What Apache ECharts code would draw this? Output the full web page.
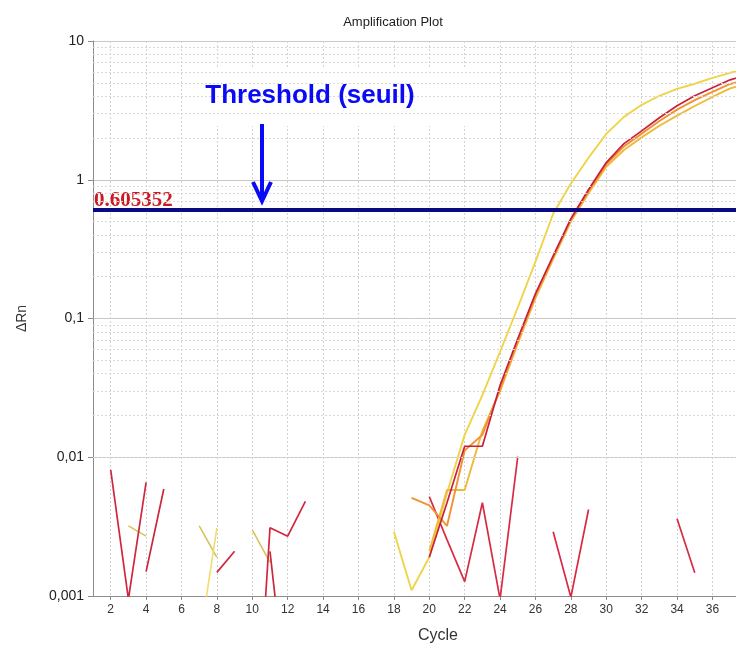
<!DOCTYPE html>
<html><head><meta charset="utf-8">
<script src="https://cdn.jsdelivr.net/npm/echarts@6/dist/echarts.min.js"></script>
<style>html,body{margin:0;padding:0;background:#fff}#c{width:736px;height:645px}</style>
</head><body><div id="c"></div>
<script>
// ---- data (cycle, ΔRn) ----
const xTickValues = [2,4,6,8,10,12,14,16,18,20,22,24,26,28,30,32,34,36];
const yTickLabels = ['0,001','0,01','0,1','1','10'];
const threshold = 0.605352;

const ampYellow = [[18,0.0029],[19,0.0011],[20,0.0019],[21,0.0055],[22,0.0145],[23,0.028],[24,0.0576],[25,0.12],[26,0.257],[27,0.569],[28,0.94],[29,1.44],[30,2.14],[31,2.84],[32,3.47],[33,4.03],[34,4.52],[35,4.92],[36,5.43],[37,5.9],[38,6.3]];
const ampGold = [[20,0.0021],[21,0.0058],[22,0.0058],[23,0.0155],[24,0.030],[25,0.066],[26,0.14],[27,0.268],[28,0.5],[29,0.8],[30,1.24],[31,1.64],[32,2.02],[33,2.45],[34,2.9],[35,3.4],[36,3.95],[37,4.55],[38,4.95]];
const ampOrange = [[19,0.0051],[20,0.0045],[21,0.0032],[22,0.0112],[23,0.0145],[24,0.031],[25,0.069],[26,0.147],[27,0.277],[28,0.515],[29,0.83],[30,1.29],[31,1.74],[32,2.15],[33,2.65],[34,3.2],[35,3.75],[36,4.3],[37,4.9],[38,5.3]];
const ampRed = [[20,0.0019],[21,0.0047],[22,0.012],[23,0.012],[24,0.033],[25,0.0715],[26,0.151],[27,0.283],[28,0.524],[29,0.85],[30,1.33],[31,1.82],[32,2.25],[33,2.8],[34,3.41],[35,4.03],[36,4.6],[37,5.25],[38,5.7]];

const noiseRedA = [[2,0.0081],[3,0.00095],[4,0.0066],[5,null],[8,0.00148],[9,0.0021],[9.5,null],[10,0.00003],[11,0.0031],[12,0.0027],[13,0.0048]];
const noiseRedB = [[4,0.0015],[5,0.0059],[6,null],[11,0.0021],[12,0.00015]];
const noiseRedNTC = [[20,0.0052],[21,0.00255],[22,0.00127],[23,0.0047],[24,0.00095],[25,0.0101],[26,null],[27,0.0029],[28,0.00098],[29,0.0042],[30,null],[34,0.0036],[35,0.00147]];
const noiseYellowA = [[3,0.0032],[4,0.0027],[5,null],[7,0.0032],[8,0.0019],[9,null],[10,0.0030],[11,0.00175]];
const noiseYellowB = [[7,0.00045],[8,0.0031]];

const minorGrid = [];
[0.001,0.01,0.1,1].forEach(d => { for (let k = 2; k <= 9; k++) minorGrid.push(+(d*k).toPrecision(3)); });

const chart = echarts.init(document.getElementById('c'), null, {renderer:'canvas'});
const FONT = 'Liberation Sans, Arial, sans-serif';

function line(name, data, color, width, z) {
  return {name, type:'line', data, symbol:'none', connectNulls:false, clip:true, z: z||3,
    lineStyle:{color, width: width||1.6}, itemStyle:{color}, emphasis:{disabled:true}, silent:true};
}

chart.setOption({
  animation:false,
  backgroundColor:'#fff',
  grid:{left:93, right:0, top:41, bottom:49},
  xAxis:{type:'value', min:1, max:37.33, interval:1,
    axisLine:{lineStyle:{color:'#8c8c8c'}},
    axisTick:{customValues:xTickValues, length:4, lineStyle:{color:'#8c8c8c'}},
    axisLabel:{customValues:xTickValues, color:'#333', fontSize:12, fontFamily:FONT, margin:8,
      formatter: v => String(v)},
    splitLine:{show:true, lineStyle:{color:'#d2d2d2', type:[2,2], width:1}}
  },
  yAxis:{type:'log', logBase:10, min:0.001, max:10,
    name:'ΔRn', nameLocation:'middle', nameGap:64, nameRotate:90,
    nameTextStyle:{fontSize:14, color:'#333', fontFamily:FONT},
    axisLine:{show:true, lineStyle:{color:'#8c8c8c'}},
    axisTick:{show:true, length:5, lineStyle:{color:'#8c8c8c'}},
    axisLabel:{color:'#222', fontSize:14, fontFamily:FONT, margin:9,
      formatter: v => { const i = Math.round(Math.log10(v)) + 3; return yTickLabels[i] !== undefined ? yTickLabels[i] : ''; }},
    splitLine:{show:true, lineStyle:{color:'#c8c8c8', width:1}}
  },
  series:[
    {type:'line', data:[], silent:true, z:1,
      markLine:{silent:true, symbol:['none','none'], label:{show:false}, animation:false,
        lineStyle:{color:'#d8d8d8', type:[2,2], width:1},
        data: minorGrid.map(v => ({yAxis:v}))}},
    line('noiseYellowA', noiseYellowA, '#d6c45a', 1.6),
    line('noiseYellowB', noiseYellowB, '#f0dc70', 1.6),
    line('noiseRedA', noiseRedA, '#d2263e', 1.7),
    line('noiseRedB', noiseRedB, '#c8283c', 1.7),
    line('noiseRedNTC', noiseRedNTC, '#d92a44', 1.7),
    line('ampYellow', ampYellow, '#efd445', 1.9),
    line('ampGold', ampGold, '#efb93a', 1.9),
    line('ampOrange', ampOrange, '#f29230', 1.9),
    Object.assign(line('ampRed', ampRed, '#c8203c', 1.7), {
      markLine:{silent:true, symbol:['none','none'], label:{show:false}, animation:false, z:10,
        lineStyle:{color:'#0a0a82', type:'solid', width:4},
        data:[{yAxis:threshold}]}
    })
  ],
  graphic:[
    {type:'text', silent:true, z:5, position:[393,22],
      style:{text:'Amplification Plot', fill:'#222', font:'13px '+FONT, textAlign:'center', textVerticalAlign:'middle'}},
    {type:'text', silent:true, z:5, position:[438,636],
      style:{text:'Cycle', fill:'#333', font:'16px '+FONT, textAlign:'center', textVerticalAlign:'middle'}},
    {type:'rect', silent:true, z:5, shape:{x:183, y:68, width:282, height:58}, style:{fill:'#fff'}},
    {type:'text', silent:true, z:6, position:[310,96],
      style:{text:'Threshold (seuil)', fill:'#0a0af5', font:'bold 26px '+FONT, textAlign:'center', textVerticalAlign:'middle'}},
    {type:'line', silent:true, z:6, shape:{x1:262, y1:124, x2:262, y2:200}, style:{stroke:'#0a0af5', lineWidth:4}},
    {type:'polyline', silent:true, z:6, shape:{points:[[253,182],[262,201],[271,182]]}, style:{stroke:'#0a0af5', lineWidth:4, fill:null, lineJoin:'miter'}},
    {type:'text', silent:true, z:4, position:[94,211],
      style:{text:String(threshold), fill:'#cc1a22', font:'bold 21px Liberation Serif, Times New Roman, serif', textAlign:'left', textVerticalAlign:'bottom'}}
  ]
});
</script></body></html>
